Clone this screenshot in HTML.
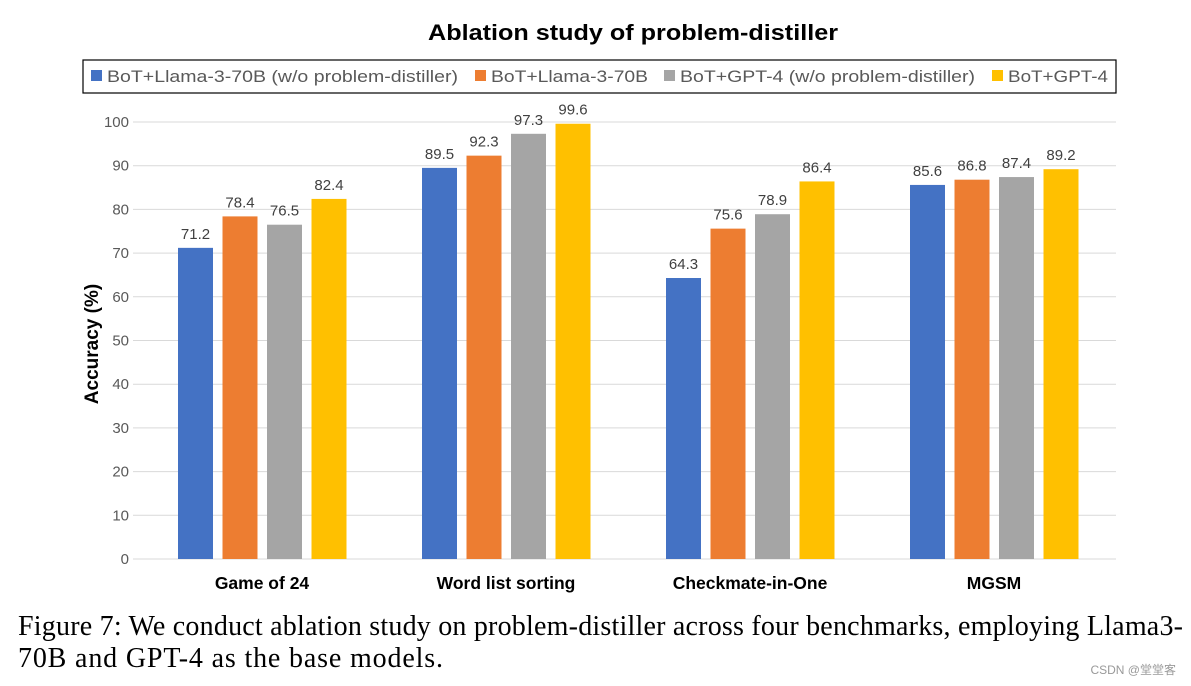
<!DOCTYPE html>
<html><head><meta charset="utf-8"><style>
body{margin:0;background:#fff;width:1191px;height:686px;overflow:hidden;position:relative}
svg{position:absolute;left:0;top:0}
</style></head><body>
<svg id="chart" width="1191" height="686" font-family="Liberation Sans, sans-serif">
<text x="428" y="40" textLength="410" lengthAdjust="spacingAndGlyphs" font-size="22" font-weight="bold" fill="#000">Ablation study of problem-distiller</text>
<rect x="83" y="60" width="1033" height="33" fill="none" stroke="#000" stroke-width="1.2"/>
<g id="legend"></g>
<g id="grid"></g><g id="bars"></g>
<text transform="translate(98,344) rotate(-90)" text-anchor="middle" font-size="19" font-weight="bold" fill="#000">Accuracy (%)</text>
<text x="18" y="635" textLength="1165" lengthAdjust="spacing" font-family="Liberation Serif, serif" font-size="28" fill="#000">Figure 7: We conduct ablation study on problem-distiller across four benchmarks, employing Llama3-</text>
<text x="18" y="667" textLength="425" lengthAdjust="spacing" font-family="Liberation Serif, serif" font-size="28" fill="#000">70B and GPT-4 as the base models.</text>
<text x="1176" y="674" text-anchor="end" font-size="12" fill="#999" font-family="Liberation Sans, Noto Sans CJK SC, sans-serif">CSDN @堂堂客</text>
</svg>
<script>
const categories=["Game of 24","Word list sorting","Checkmate-in-One","MGSM"];
const seriesNames=["BoT+Llama-3-70B (w/o problem-distiller)","BoT+Llama-3-70B","BoT+GPT-4 (w/o problem-distiller)","BoT+GPT-4"];
const s1=[71.2,89.5,64.3,85.6];
const s2=[78.4,92.3,75.6,86.8];
const s3=[76.5,97.3,78.9,87.4];
const s4=[82.4,99.6,86.4,89.2];
const yTicks=[0,10,20,30,40,50,60,70,80,90,100];
const colors=["#4472c4","#ed7d31","#a5a5a5","#ffc000"];
const NS="http://www.w3.org/2000/svg";
const X0=140,GW=244,Y0=559,YS=4.37;
const y=v=>Y0-v*YS;
function mk(t,a,p){const e=document.createElementNS(NS,t);for(const k in a)e.setAttribute(k,a[k]);p.appendChild(e);return e;}
const grid=document.getElementById('grid'),bars=document.getElementById('bars'),leg=document.getElementById('legend');
yTicks.forEach(v=>{
 const l=mk('line',{x1:133,x2:1116,y1:y(v),y2:y(v),stroke:'#d9d9d9','stroke-width':1},grid);
 
 
 const t=mk('text',{x:129,y:y(v)+5,'text-anchor':'end','font-size':15,fill:'#595959'},grid);t.textContent=v;
 
 
});
const series=[s1,s2,s3,s4];
categories.forEach((c,i)=>{
 const cx=X0+GW*i+GW/2;
 series.forEach((s,j)=>{
  const bx=cx-84+j*44.5,v=s[i];
  const r=mk('rect',{x:bx,y:y(v),width:35,height:v*YS,fill:colors[j]},bars);
  
  
  const t=mk('text',{x:bx+17.5,y:y(v)-9,'text-anchor':'middle','font-size':15,fill:'#404040'},bars);t.textContent=v;
  
  
 });
 const t=mk('text',{x:cx,y:589,'text-anchor':'middle','font-size':17.5,'font-weight':'bold',fill:'#000'},bars);t.textContent=c;
 
 
});
const lx=[91,475,664,992];
const lw=[351,157,295,100];
seriesNames.forEach((n,j)=>{
 const r=mk('rect',{x:lx[j],y:70,width:11,height:11,fill:colors[j]},leg);
 
 
 const t=mk('text',{x:lx[j]+16,y:82,'font-size':17,fill:'#595959',textLength:lw[j],lengthAdjust:'spacingAndGlyphs'},leg);t.textContent=n;
 
 
});
</script>
</body></html>
